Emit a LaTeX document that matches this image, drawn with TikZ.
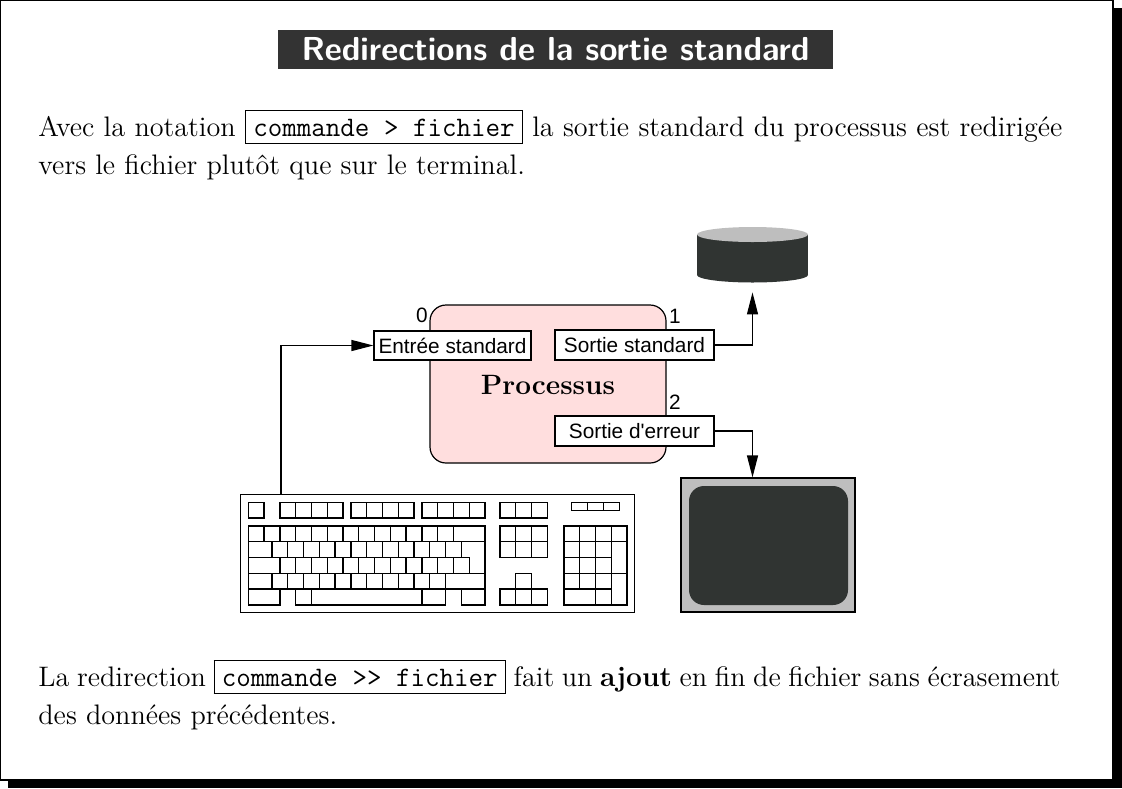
\documentclass[tikz,border=0pt]{standalone}
\usepackage{fontspec}
\newfontfamily\hv{Liberation Sans}
\usetikzlibrary{arrows.meta}
\definecolor{pinkfill}{RGB}{255,222,222}
\definecolor{titlebg}{RGB}{51,51,51}
\definecolor{darkscr}{RGB}{48,52,50}
\definecolor{lgray}{RGB}{190,190,190}
\newcommand{\cbox}[1]{{\setlength{\fboxsep}{3.6pt}\setlength{\fboxrule}{0.5pt}\fbox{\texttt{#1}}}}
\tikzset{
  fdbox/.style={draw, fill=white, line width=0.6pt, inner sep=0pt, font=\hv\fontsize{10.4}{12}\selectfont},
  arr/.style={line width=0.6pt, -{Triangle[length=11pt,width=5.5pt]}},
  keyln/.style={line width=0.65pt},
  bodytxt/.style={anchor=base west, inner sep=0pt, font=\fontsize{14.1}{19}\selectfont},
  numtxt/.style={font=\hv\fontsize{10.4}{12}\selectfont, inner sep=0pt}
}
\begin{document}
\begin{tikzpicture}[x=0.5pt,y=-0.5pt]
\useasboundingbox (0,0) rectangle (1122,788);
% frame with shadow
\draw[line width=0.8pt] (0.5,0.5) rectangle (1113,780);
\fill (8,780) rectangle (1122,788);
\fill (1113,8) rectangle (1122,788);
% title
\node[fill=titlebg, text=white, minimum width=277.5pt, minimum height=19.5pt, inner sep=0pt,
      font=\sffamily\bfseries\fontsize{16.6}{18}\selectfont] (title) at (555.5,49.5) {Redirections de la sortie standard};
% body text
\node[bodytxt] (p1a) at (38,136) {\makebox[512pt][s]{Avec la notation \cbox{commande > fichier} la sortie standard du processus est redirigée}};
\node[bodytxt] (p1b) at (38,174) {vers le fichier plutôt que sur le terminal.};
\node[bodytxt] (p2a) at (38,686) {\makebox[511pt][s]{La redirection \cbox{commande >{}> fichier} fait un \textbf{ajout} en fin de fichier sans écrasement}};
\node[bodytxt] (p2b) at (38,724) {des données précédentes.};
% process
\node[draw, fill=pinkfill, rounded corners=8pt, line width=0.6pt, minimum width=118pt, minimum height=79pt, inner sep=0pt] (proc) at (548,384) {};
\node[anchor=base, inner sep=0pt, font=\bfseries\fontsize{14}{16}\selectfont] (ptxt) at (548,394) {Processus};
\node[fdbox, minimum width=78.5pt, minimum height=14.5pt] (entree) at (452.5,345.5) {Entrée standard};
\node[fdbox, minimum width=79.5pt, minimum height=15pt] (sstd) at (634.5,345) {Sortie standard};
\node[fdbox, minimum width=79.5pt, minimum height=15pt] (serr) at (634.5,431) {Sortie d'erreur};
\node[numtxt] (n0) at (422,315) {0};
\node[numtxt] (n1) at (675,316) {1};
\node[numtxt] (n2) at (675,402) {2};
% disk
\node[minimum width=55.5pt, minimum height=27.5pt, inner sep=0pt] (disk) at (752.5,254.5) {};
\fill[darkscr] (697,234.5) rectangle (808,275);
\fill[darkscr] (752.5,275) ellipse [x radius=27.75pt, y radius=3.75pt];
\fill[lgray] (752.5,234.5) ellipse [x radius=27.75pt, y radius=3.75pt];
% monitor
\node[draw, fill=lgray, line width=0.6pt, minimum width=87pt, minimum height=67pt, inner sep=0pt] (mon) at (768,545) {};
\fill[darkscr, rounded corners=7.5pt] (689,486) rectangle (848,605);
% keyboard
\begin{scope}[shift={(248.33,526)}, x=7.89pt, y=-7.89pt, keyln]
  \draw (-0.5,-2) rectangle (24.45,5.5);
  \coordinate (kbin) at (2.07,-2);
  % function row
  \draw (0,-1.5) rectangle (1,-0.5);
  \foreach \s in {2,6.5,11}{
    \foreach \i in {0,1,2,3}{ \draw (\s+\i,-1.5) rectangle (\s+\i+1,-0.5); }
  }
  \foreach \i in {0,1,2}{ \draw (15.95+\i,-1.5) rectangle (16.95+\i,-0.5); }
  \draw (20.5,-1.5) rectangle (23.5,-1);
  \draw (21.5,-1.5) -- (21.5,-1) (22.5,-1.5) -- (22.5,-1);
  % row 0
  \foreach \i in {0,...,12}{ \draw (\i,0) rectangle (\i+1,1); }
  \draw (13,0) rectangle (15,1);
  % row 1
  \draw (0,1) rectangle (1.5,2);
  \foreach \i in {0,...,11}{ \draw (1.5+\i,1) rectangle (2.5+\i,2); }
  \draw (13.5,1) -- (15,1) -- (15,3) -- (14,3) -- (14,2) -- (13.5,2) -- cycle;
  % row 2
  \draw (0,2) rectangle (2,3);
  \foreach \i in {0,...,11}{ \draw (2+\i,2) rectangle (3+\i,3); }
  % row 3
  \draw (0,3) rectangle (1.5,4);
  \foreach \i in {0,...,10}{ \draw (1.5+\i,3) rectangle (2.5+\i,4); }
  \draw (12.5,3) rectangle (15,4);
  % row 4
  \draw (0,4) rectangle (2,5);
  \draw (3,4) rectangle (4,5);
  \draw (4,4) rectangle (11,5);
  \draw (11,4) rectangle (12.5,5);
  \draw (13.5,4) rectangle (15,5);
  % navigation
  \foreach \i in {0,1,2}{ \foreach \j in {0,1}{ \draw (15.95+\i,\j) rectangle (16.95+\i,\j+1); } }
  \draw (16.95,3) rectangle (17.95,4);
  \foreach \i in {0,1,2}{ \draw (15.95+\i,4) rectangle (16.95+\i,5); }
  % numpad
  \foreach \i in {0,1,2,3}{ \draw (20+\i,0) rectangle (21+\i,1); }
  \foreach \i in {0,1,2}{ \foreach \j in {1,2,3}{ \draw (20+\i,\j) rectangle (21+\i,\j+1); } }
  \draw (23,1) rectangle (24,3);
  \draw (23,3) rectangle (24,5);
  \draw (20,4) rectangle (22,5);
  \draw (22,4) rectangle (23,5);
\end{scope}
% connectors
\draw[arr] (kbin) |- (entree.west);
\draw[arr] (sstd.east) -| ([yshift=-5pt]disk.south);
\draw[arr] (serr.east) -| (mon.north -| disk.south);
\end{tikzpicture}
\end{document}
